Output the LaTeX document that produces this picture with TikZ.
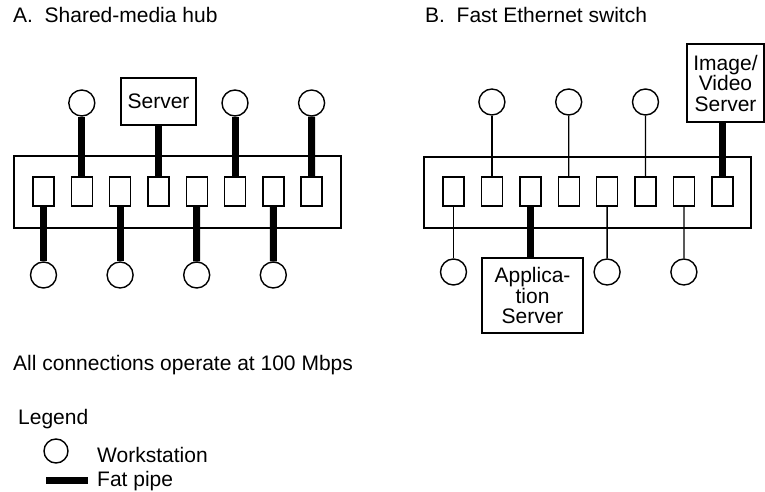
\documentclass[tikz,border=0pt]{standalone}
\usepackage{fontspec}
\setmainfont{Liberation Sans}
\begin{document}
\begin{tikzpicture}[x=1pt,y=-1pt,
  lbl/.style={anchor=base west,inner sep=0pt,font=\fontsize{21}{20}\selectfont},
  hub/.style={draw,line width=1.4pt},
  port/.style={draw,line width=1.4pt,rectangle,minimum width=21pt,minimum height=29pt,inner sep=0pt},
  ws/.style={draw,line width=1.4pt,circle,minimum size=26pt,inner sep=0pt},
  srv/.style={draw,line width=1.4pt,rectangle,inner sep=0pt,align=center,font=\fontsize{21}{20.5}\selectfont},
  fat/.style={line width=7pt},
  thin/.style={line width=1.3pt}]
\useasboundingbox (0,0) rectangle (765,492);
\fill[white] (0,0) rectangle (765,492);

% titles
\node[lbl] (ta) at (13,23) {A.\ \ Shared-media hub};
\node[lbl] (tb) at (425,23) {B.\ \ Fast Ethernet switch};

% ---------- Panel A ----------
\draw[hub] (14,156) rectangle (341,228);
\foreach \i in {1,...,8} {
  \node[port] (pa\i) at ({43.5+38.3*(\i-1)},191.5) {};
}
\node[ws] (wa2) at (81.8,103) {};
\node[ws] (wa6) at (235,103) {};
\node[ws] (wa8) at (311.6,103) {};
\node[srv,minimum width=75pt,minimum height=47pt] (sa) at (158.5,101.5) {Server};
\node[ws] (wa1) at (43.5,275) {};
\node[ws] (wa3) at (120.1,275) {};
\node[ws] (wa5) at (196.7,275) {};
\node[ws] (wa7) at (273.3,275) {};
\draw[fat] (pa2.north) -- (wa2.south);
\draw[fat] (pa6.north) -- (wa6.south);
\draw[fat] (pa8.north) -- (wa8.south);
\draw[fat] (pa4.north) -- (pa4.north |- sa.south);
\draw[fat] (pa1.south) -- (wa1.north);
\draw[fat] (pa3.south) -- (wa3.north);
\draw[fat] (pa5.south) -- (wa5.north);
\draw[fat] (pa7.south) -- (wa7.north);

% ---------- Panel B ----------
\draw[hub] (424,157) rectangle (751,228);
\foreach \i in {1,...,8} {
  \node[port] (pb\i) at ({453.5+38.4*(\i-1)},191.5) {};
}
\node[ws] (wb2) at (491.9,102) {};
\node[ws] (wb4) at (568.7,102) {};
\node[ws] (wb6) at (645.5,102) {};
\node[srv,minimum width=77pt,minimum height=78pt] (sb) at (725.5,83) {Image/\\Video\\Server};
\node[ws] (wb1) at (453.5,272) {};
\node[ws] (wb5) at (607.1,272) {};
\node[ws] (wb7) at (683.9,272) {};
\node[srv,minimum width=101pt,minimum height=75pt] (ab) at (532.5,295.5) {Applica-\\tion\\Server};
\draw[thin] (pb2.north) -- (wb2.south);
\draw[thin] (pb4.north) -- (wb4.south);
\draw[thin] (pb6.north) -- (wb6.south);
\draw[fat] (pb8.north) -- (pb8.north |- sb.south);
\draw[thin] (pb1.south) -- (wb1.north);
\draw[thin] (pb5.south) -- (wb5.north);
\draw[thin] (pb7.south) -- (wb7.north);
\draw[fat] (pb3.south) -- (pb3.south |- ab.north);

% ---------- notes and legend ----------
\node[lbl] (note) at (13,370) {All connections operate at 100 Mbps};
\node[lbl] (leg) at (18,424) {Legend};
\node[ws,minimum size=24pt] (lw) at (56,451) {};
\node[lbl] (lwt) at (97,462) {Workstation};
\coordinate (lp1) at (46,480);
\coordinate (lp2) at (88,480);
\draw[fat] (lp1) -- (lp2);
\node[lbl] (lpt) at (97,486) {Fat pipe};
\end{tikzpicture}
\end{document}
